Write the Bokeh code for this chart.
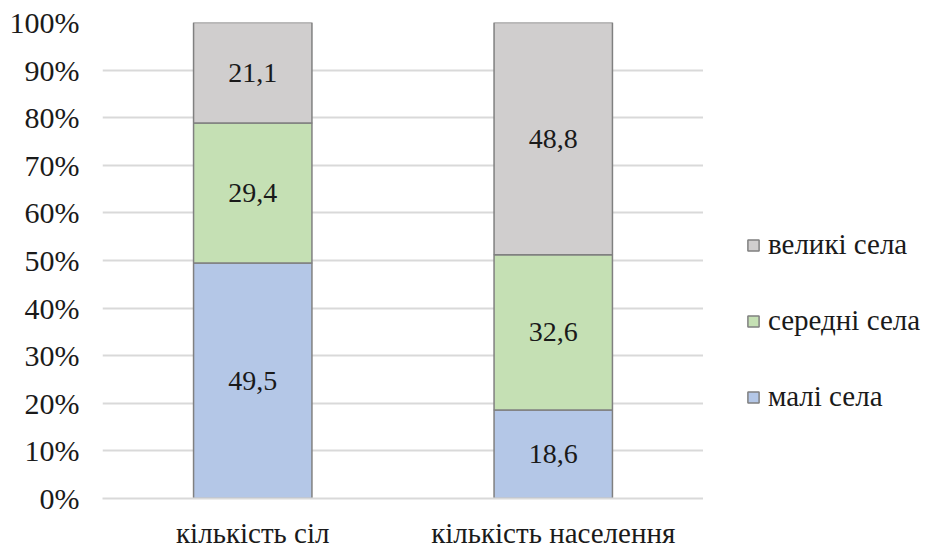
from bokeh.plotting import figure
from bokeh.layouts import row
from bokeh.models import (FactorRange, Range1d, FixedTicker, PrintfTickFormatter,
                          Legend, LegendItem, ColumnDataSource, LabelSet)
from bokeh.embed import file_html
from bokeh.resources import INLINE

categories = ["кількість сіл", "кількість населення"]
series_names = ["малі села", "середні села", "великі села"]
small = [49.5, 18.6]
medium = [29.4, 32.6]
large = [21.1, 48.8]
colors = ["#b4c7e7", "#c5e0b4", "#d0cece"]
yticks = [0, 10, 20, 30, 40, 50, 60, 70, 80, 90, 100]

FONT = "Times New Roman"
TXT = "#1a1a1a"

data = {"cat": categories, "small": small, "medium": medium, "large": large}
src = ColumnDataSource(data)

p = figure(x_range=FactorRange(*categories), y_range=Range1d(0, 100),
           width=703, height=551, output_backend="svg", toolbar_location=None,
           min_border_left=102, min_border_right=0, min_border_top=22,
           min_border_bottom=51)
p.outline_line_color = None

renderers = p.vbar_stack(["small", "medium", "large"], x="cat", width=0.394,
                         source=src, color=colors, line_color="#808080",
                         line_width=1.5)

lab_x, lab_y, lab_t = [], [], []
for i, c in enumerate(categories):
    base = 0
    for vals in (small, medium, large):
        v = vals[i]
        lab_x.append(c)
        lab_y.append(base + v / 2)
        lab_t.append(f"{v:.1f}".replace(".", ","))
        base += v
lsrc = ColumnDataSource(dict(x=lab_x, y=lab_y, t=lab_t))
p.add_layout(LabelSet(x="x", y="y", text="t", source=lsrc, text_align="center",
                      text_baseline="middle", text_font=FONT,
                      text_font_size="28px", text_color=TXT))

p.yaxis.ticker = FixedTicker(ticks=yticks)
p.yaxis.formatter = PrintfTickFormatter(format="%d%%")
p.yaxis.axis_line_color = None
p.yaxis.major_tick_line_color = None
p.yaxis.minor_tick_line_color = None
p.yaxis.major_label_text_font = FONT
p.yaxis.major_label_text_font_size = "30px"
p.yaxis.major_label_text_color = TXT
p.yaxis.major_label_standoff = 17

p.xaxis.axis_line_color = "#d9d9d9"
p.xaxis.axis_line_width = 2
p.xaxis.major_tick_line_color = None
p.xaxis.minor_tick_line_color = None
p.xaxis.major_label_text_font = FONT
p.xaxis.major_label_text_font_size = "29px"
p.xaxis.major_label_text_color = TXT
p.xaxis.major_label_standoff = 12

p.xgrid.grid_line_color = None
p.ygrid.grid_line_color = "#d9d9d9"
p.ygrid.grid_line_width = 2

# legend panel: a companion figure whose (hidden) bars only feed the legend
p2 = figure(x_range=FactorRange(*categories), y_range=Range1d(0, 100),
            width=223, height=551, output_backend="svg", toolbar_location=None,
            x_axis_location=None, y_axis_location=None, min_border=0)
p2.outline_line_color = None
p2.grid.visible = False
leg_r = p2.vbar_stack(["small", "medium", "large"], x="cat", width=0.394,
                      source=src, color=colors, line_color="#808080",
                      line_width=1.5)
for r in leg_r:
    r.visible = False

items = [LegendItem(label=series_names[k], renderers=[leg_r[k]]) for k in (2, 1, 0)]
legend = Legend(items=items, location=(43, 85), orientation="vertical",
                border_line_color=None, background_fill_alpha=0,
                inactive_fill_alpha=0,
                label_text_font=FONT, label_text_font_size="29px",
                label_text_color=TXT, glyph_width=14, glyph_height=14,
                label_standoff=8, label_height=30, spacing=43, padding=0, margin=0)
p2.add_layout(legend)

layout = row(p, p2)
open("out.html", "w").write(file_html(layout, INLINE))
